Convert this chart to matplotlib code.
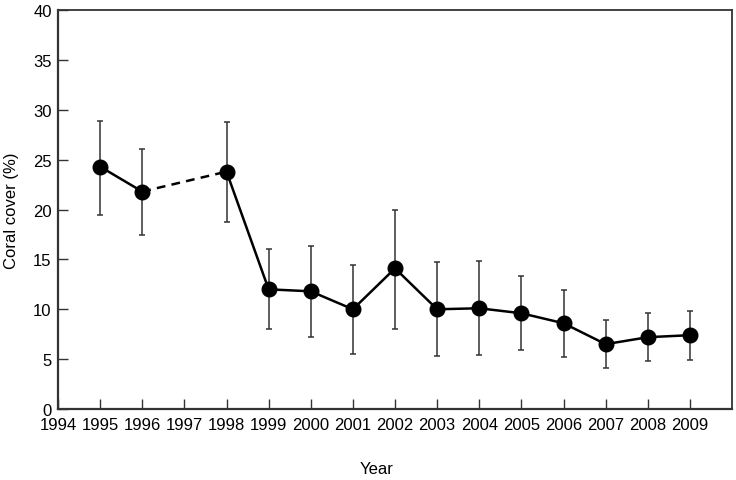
import numpy as np
import matplotlib.pyplot as plt

plt.rcParams['font.family'] = ['Liberation Sans', 'DejaVu Sans']

years = [1995, 1996, 1998, 1999, 2000, 2001, 2002, 2003, 2004, 2005, 2006, 2007, 2008, 2009]
cover = [24.3, 21.8, 23.8, 12.0, 11.8, 10.0, 14.1, 10.0, 10.1, 9.6, 8.6, 6.5, 7.2, 7.4]
upper = [28.9, 26.1, 28.8, 16.0, 16.3, 14.4, 20.0, 14.7, 14.8, 13.3, 11.9, 8.9, 9.6, 9.8]
lower = [19.5, 17.4, 18.8, 8.0, 7.2, 5.5, 8.0, 5.3, 5.4, 5.9, 5.2, 4.1, 4.8, 4.9]

tick_years = list(range(1994, 2010))
y_ticks = list(range(0, 41, 5))

x = np.array(years)
y = np.array(cover)
err = [y - np.array(lower), np.array(upper) - y]

fig = plt.figure(figsize=(7.36, 4.81), dpi=100)
ax = fig.add_axes([0.0788, 0.1476, 0.9158, 0.8294])

ax.errorbar(x, y, yerr=err, fmt='none', ecolor='#333333', elinewidth=1.1,
            capsize=2.5, capthick=1.1, zorder=2)

# solid segments, dashed across the missing 1997
ax.plot(x[:2], y[:2], color='black', lw=1.8, zorder=3)
ax.plot(x[1:3], y[1:3], color='black', lw=1.8, ls=(0, (3.5, 2.5)), zorder=3)
ax.plot(x[2:], y[2:], color='black', lw=1.8, zorder=3)
ax.plot(x, y, 'o', color='black', ms=10.5, zorder=4)

ax.set_xlim(1994, 2010)
ax.set_ylim(0, 40)
ax.set_xticks(tick_years)
ax.set_xticklabels([str(t) for t in tick_years], fontsize=12)
ax.set_yticks(y_ticks)
ax.set_yticklabels([str(t) for t in y_ticks], fontsize=12)
ax.tick_params(direction='in', length=7, width=1, color='#333333')
ax.tick_params(axis='x', pad=6)
ax.tick_params(axis='y', pad=4.5)

for side in ['left', 'bottom']:
    ax.spines[side].set_linewidth(1.6)
for side in ['top', 'right']:
    ax.spines[side].set_linewidth(1.3)
for s in ax.spines.values():
    s.set_color('#333333')

ax.set_xlabel('Year', fontsize=12)
ax.xaxis.set_label_coords(0.472, -0.13)
ax.set_ylabel('Coral cover (%)', fontsize=12)
ax.yaxis.set_label_coords(-0.058, 0.5)

fig.savefig('out.png', dpi=100)
